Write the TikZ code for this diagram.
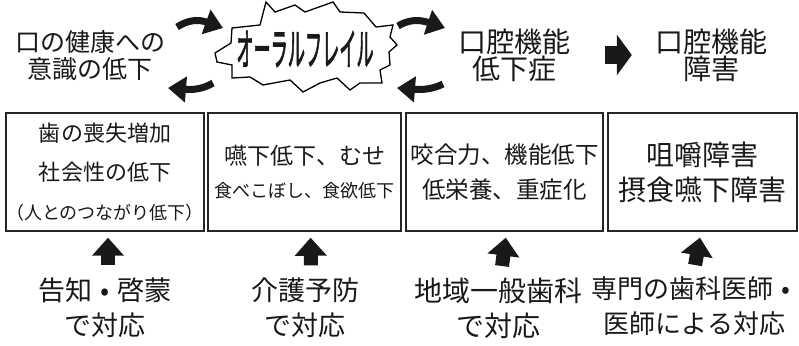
\documentclass[tikz,border=0pt]{standalone}
\usepackage{fontspec}
\setmainfont{Noto Sans CJK JP}
\newfontfamily\jpbold[FakeBold=2.5]{Noto Sans CJK JP}
\usetikzlibrary{arrows.meta,calc}
\newcommand{\bigdot}{\makebox[0.9em][c]{•}}
\begin{document}
\begin{tikzpicture}[x=1pt,y=-1pt,
  txt/.style={inner sep=0pt, align=center, text=black!90},
  box/.style={draw=black!85, line width=1.4pt, minimum height=118pt, inner sep=0pt, align=center, text=black!90},
  curvearrow/.style={line width=7pt, draw=black!90, -{Triangle[length=18pt,width=25pt]}},
  uparrow/.style={line width=14pt, draw=black!90, -{Triangle[length=18pt,width=31pt]}},
  rightarrow/.style={line width=18pt, draw=black!90, -{Triangle[length=15pt,width=40pt]}},
  burst/.style={draw=black, line width=1.3pt, line join=miter, fill=white}
]
\fill[white] (0,0) rectangle (799,345);
\useasboundingbox (0,0) rectangle (799,345);

% burst
\draw[burst] (215,53) -- (231,43) -- (232,28) -- (260,25) -- (266,2) -- (275,12) -- (295,5) -- (305,12) -- (333,2) -- (340,12) -- (364,13) -- (376,27) -- (393,25) -- (390,37) -- (397,45) -- (389,52) -- (390,65) -- (380,70) -- (382,83) -- (360,83) -- (350,90) -- (337,78) -- (320,83) -- (303,92) -- (290,80) -- (263,85) -- (250,77) -- (232,78) -- (232,65) -- (217,62) -- cycle;
\node[txt, font=\jpbold\fontsize{44}{44}\selectfont, xscale=0.39] (frail) at (305,49) {オーラルフレイル};

% top texts
\node[txt, font=\fontsize{25}{27}\selectfont] (aware) at (90,55.5) {口の健康への\\意識の低下};
\node[txt, font=\fontsize{28}{27}\selectfont] (lowfunc) at (514,55) {口腔機能\\低下症};
\node[txt, font=\fontsize{28}{27}\selectfont] (disorder) at (711,55) {口腔機能\\障害};

% curved arrows
\coordinate (a1s) at (177,27); \coordinate (a1e) at (223,28);
\coordinate (a2s) at (213,83); \coordinate (a2e) at (168,88);
\coordinate (a3s) at (398,26); \coordinate (a3e) at (445,28);
\coordinate (a4s) at (443,84); \coordinate (a4e) at (397,88);
\draw[curvearrow] (a1s) .. controls (188,20) and (198,19) .. (a1e);
\draw[curvearrow] (a2s) .. controls (203,89) and (193,90) .. (a2e);
\draw[curvearrow] (a3s) .. controls (408,20) and (418,19) .. (a3e);
\draw[curvearrow] (a4s) .. controls (433,89) and (423,90) .. (a4e);

\draw[rightarrow, shorten <=35pt, shorten >=23pt] (lowfunc.east) -- (disorder.west);

% boxes
\node[box, minimum width=190pt, font=\fontsize{22}{39}\selectfont] (b1) at (105,172)
  {歯の喪失増加\\社会性の低下\\{\fontsize{18}{39}\selectfont （人とのつながり低下）}};
\node[box, minimum width=193pt, font=\fontsize{23}{33}\selectfont] (b2) at (304.5,172)
  {嚥下低下、むせ\\{\fontsize{18}{33}\selectfont 食べこぼし、食欲低下}};
\node[box, minimum width=197pt, font=\fontsize{23.5}{35}\selectfont] (b3) at (504.5,172)
  {咬合力、機能低下\\低栄養、重症化};
\node[box, minimum width=189pt, font=\fontsize{28}{35}\selectfont] (b4) at (702.5,172)
  {咀嚼障害\\摂食嚥下障害};

% bottom texts
\node[txt, font=\fontsize{27}{35}\selectfont] (t1) at (105,307.5) {告知\bigdot 啓蒙\\で対応};
\node[txt, font=\fontsize{27}{35}\selectfont] (t2) at (305,307.5) {介護予防\\で対応};
\node[txt, font=\fontsize{28}{35}\selectfont] (t3) at (498.5,308.5) {地域一般歯科\\で対応};
\node[txt, font=\fontsize{26}{35}\selectfont] (t4) at (694.5,306.5) {専門の歯科医師\bigdot\\医師による対応};

% up arrows
\draw[uparrow, shorten <=12pt, shorten >=6pt] ([xshift=3pt]t1.north) -- ([xshift=3pt]b1.south);
\draw[uparrow, shorten <=12pt, shorten >=6pt] ([xshift=6pt]t2.north) -- ([xshift=6pt]b2.south);
\draw[uparrow, shorten <=12pt, shorten >=6pt] ([xshift=2pt]t3.north) -- ([xshift=2pt]b3.south);
\draw[uparrow, shorten <=12pt, shorten >=6pt] ([xshift=-1.5pt]t4.north) -- ([xshift=-1.5pt]b4.south);
\end{tikzpicture}
\end{document}
